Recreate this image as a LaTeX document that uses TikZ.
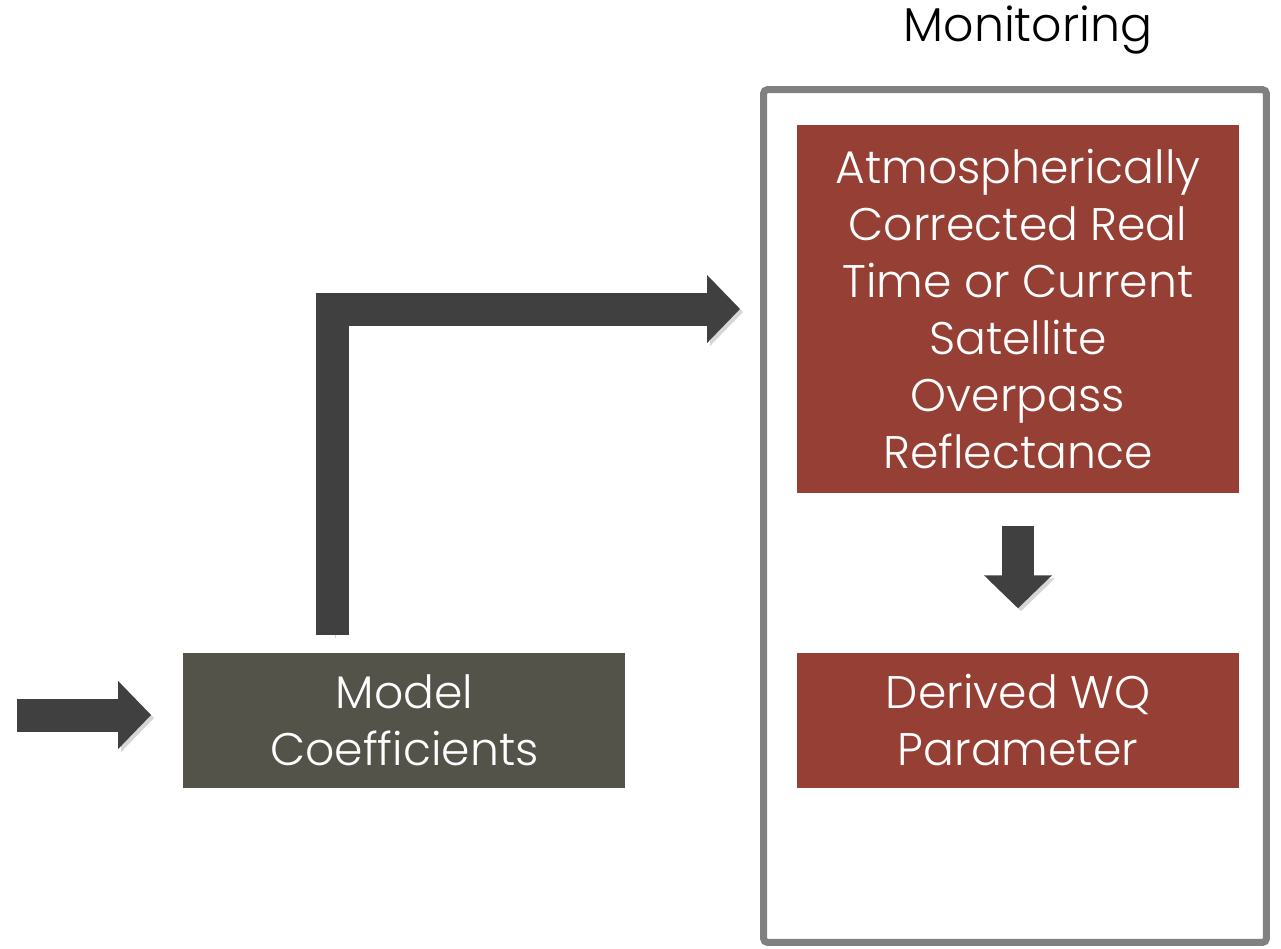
\documentclass[tikz,border=0pt]{standalone}
\usepackage{fontspec}
\setmainfont{Poppins}[UprightFont=* Light]
\usetikzlibrary{arrows.meta,positioning,calc}

\definecolor{brick}{HTML}{963F34}
\definecolor{slate}{HTML}{53534A}
\definecolor{ink}{HTML}{404040}
\definecolor{rim}{HTML}{808080}

\begin{document}
\begin{tikzpicture}[x=0.02cm, y=-0.02cm]
    \tikzset{
        box/.style      =   { rectangle
                            , fill=brick
                            , text=white
                            , align=center
                            , inner sep=0pt
                            , minimum width=8.84cm
                            , minimum height=2.7cm
                            , font=\fontsize{26}{32.4}\selectfont
        }
        , frame/.style  =   { rectangle
                            , draw=rim
                            , line width=0.14cm
                            , rounded corners=0.08cm
                            , minimum width=10.06cm
                            , minimum height=17.06cm
        }
        , fat/.style    =   { draw=ink
                            , line width=0.66cm
                            , -{Triangle[length=0.66cm, width=1.32cm]}
                            , preaction={ draw=black!16
                                        , transform canvas={shift={(0.06cm,-0.06cm)}}
                            }
        }
    }
    \useasboundingbox (0,0) rectangle (1281,948);

    \node(refl)[box, minimum height=7.36cm] at (1018,309)
        {Atmospherically\\Corrected Real\\Time or Current\\Satellite\\Overpass\\Reflectance};
    \node(wq)[box, below=3.18cm of refl] {Derived WQ\\Parameter};
    \node(model)[box, fill=slate, left=3.42cm of wq] {Model\\Coefficients};
    \node(monitor)[frame] at (1015,516) {};
    \node(title)[font=\fontsize{27}{32}\selectfont] at (1028,30) {Monitoring};

    \coordinate(in) at (17,715);
    \coordinate(up) at ($(model.north west)+(149,-17)$);

    \draw[fat]       (in) -- ($(in -| model.west)+(-32,0)$);
    \draw[fat]       (up) |- ($(monitor.west |- refl)+(-20,0)$);
    \draw[fat, line width=0.64cm, shorten <=0.66cm, shorten >=0.88cm]
                     (refl.south) -- (wq.north);
\end{tikzpicture}
\end{document}
